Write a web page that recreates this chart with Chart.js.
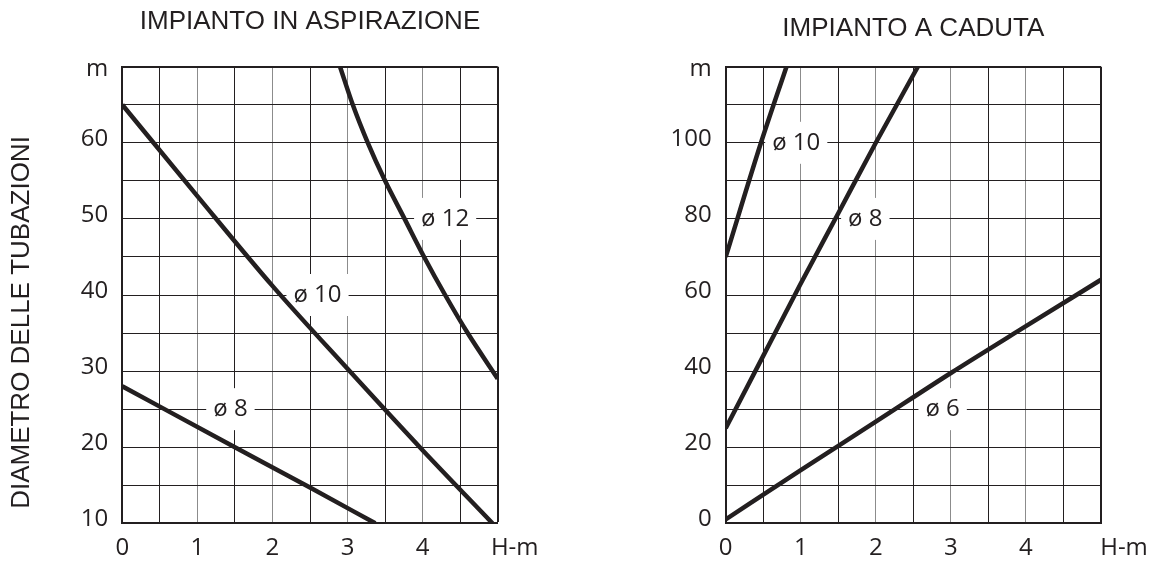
<!DOCTYPE html>
<html>
<head>
<meta charset="utf-8">
<script src="https://cdn.jsdelivr.net/npm/chart.js@4.4.1/dist/chart.umd.min.js"></script>
<style>
    html, body { margin: 0; padding: 0; background: #fff; }
    #wrap { position: relative; width: 1154px; height: 564px; }
    .box { position: absolute; top: 0; width: 577px; height: 564px; }
    #boxLeft { left: 0; }
    #boxRight { left: 577px; }
</style>
</head>
<body>
<div id="wrap">
    <div class="box" id="boxLeft"><canvas id="chartLeft"></canvas></div>
    <div class="box" id="boxRight"><canvas id="chartRight"></canvas></div>
</div>
<script>
// --- IMPIANTO IN ASPIRAZIONE ---
const aspX8 = [0, 1.5, 2.5, 3.37];
const aspY8 = [28, 20, 14.7, 10];
const aspX10 = [0, 1, 2, 3, 4, 4.93];
const aspY10 = [65, 53, 41.2, 30.3, 19.6, 10];
const aspX12 = [2.9, 3.07, 3.27, 3.5, 3.76, 4.02, 4.3, 4.6, 5];
const aspY12 = [70, 65, 60, 55, 50, 45, 40, 35, 29];
const aspXTicks = [0, 1, 2, 3, 4];
const aspYTicks = [10, 20, 30, 40, 50, 60];

// --- IMPIANTO A CADUTA ---
const cadX6 = [0, 1, 2, 3, 4, 5];
const cadY6 = [1, 14, 26.7, 39.5, 51.8, 64];
const cadX8 = [0, 0.5, 1, 1.5, 2, 2.56];
const cadY8 = [25, 44, 63, 81.5, 100, 120];
const cadX10 = [0, 0.47, 0.81];
const cadY10 = [70, 100, 120];
const cadXTicks = [0, 1, 2, 3, 4];
const cadYTicks = [0, 20, 40, 60, 80, 100];

const INK = '#231f20';
const GRID_GRAY = '#8c8c8c';
const TICK_FONT = { family: '"Open Sans", sans-serif', size: 24 };
const TITLE_FONT = { family: '"Liberation Sans", Arial, sans-serif', size: 26, weight: 'normal' };

Chart.defaults.font.family = '"Open Sans", sans-serif';
Chart.defaults.color = INK;

function toPoints(xs, ys) {
    return xs.map((x, i) => ({ x: x, y: ys[i] }));
}

function curve(xs, ys) {
    return {
        data: toPoints(xs, ys),
        borderColor: INK,
        borderWidth: 4.5,
        pointRadius: 0,
        fill: false,
        cubicInterpolationMode: 'monotone'
    };
}

// labels with white background, unit labels on the axes, rotated y title
const extrasPlugin = {
    id: 'extras',
    beforeDatasetsDraw(chart, args, opts) {
        const { ctx } = chart;
        const xs = chart.scales.x, ys = chart.scales.y;
        ctx.save();
        ctx.font = '24px "Open Sans"';
        ctx.textAlign = 'center';
        ctx.textBaseline = 'middle';
        (opts.labels || []).forEach(l => {
            const px = xs.getPixelForValue(l.x);
            const py = ys.getPixelForValue(l.y);
            const w = ctx.measureText(l.text).width + 14;
            ctx.fillStyle = '#fff';
            ctx.fillRect(px - w / 2, py - 21, w, 42);
            ctx.fillStyle = INK;
            ctx.fillText(l.text, px, py);
        });
        ctx.restore();
    },
    afterDraw(chart, args, opts) {
        const { ctx } = chart;
        const xs = chart.scales.x, ys = chart.scales.y;
        ctx.save();
        ctx.fillStyle = INK;
        ctx.textBaseline = 'middle';
        ctx.font = '24px "Open Sans"';
        ctx.textAlign = 'center';
        ctx.fillText(opts.xUnit, xs.getPixelForValue(xs.max) + opts.xUnitShift, xs.top + 24.4);
        ctx.textAlign = 'right';
        ctx.fillText(opts.yUnit, ys.right - 14, ys.getPixelForValue(ys.max) + 2);
        if (opts.yTitle) {
            ctx.font = '26px "Liberation Sans"';
            ctx.textAlign = 'center';
            ctx.translate(opts.yTitleX, opts.yTitleY);
            ctx.rotate(-Math.PI / 2);
            ctx.fillText(opts.yTitle, 0, 0);
        }
        ctx.restore();
    }
};

function makeChart(canvasId, cfg) {
    const ctx = document.getElementById(canvasId).getContext('2d');
    return new Chart(ctx, {
        type: 'line',
        data: { datasets: cfg.datasets },
        plugins: [extrasPlugin],
        options: {
            responsive: true,
            maintainAspectRatio: false,
            animation: false,
            layout: { padding: { left: 0, right: cfg.padRight, top: 0, bottom: 0 } },
            plugins: {
                legend: { display: false },
                tooltip: { enabled: false },
                title: {
                    display: true,
                    text: cfg.title,
                    font: TITLE_FONT,
                    color: INK,
                    fullSize: false,
                    padding: cfg.titlePad
                },
                extras: cfg.extras
            },
            scales: {
                x: {
                    type: 'linear',
                    min: 0,
                    max: 5,
                    afterFit: s => { s.height = 40.7; },
                    border: { display: true, color: INK, width: 2 },
                    grid: {
                        drawTicks: false,
                        color: c => (c.tick.value === 5 || !Number.isInteger(c.tick.value)) ? INK : GRID_GRAY,
                        lineWidth: c => c.tick.value === 5 ? 2 : 1
                    },
                    ticks: {
                        stepSize: 0.5,
                        autoSkip: false,
                        maxRotation: 0,
                        padding: 10,
                        font: TICK_FONT,
                        color: INK,
                        callback: v => cfg.xTicks.includes(v) ? String(v) : ''
                    }
                },
                y: {
                    min: cfg.yMin,
                    max: cfg.yMax,
                    afterFit: s => { s.width = cfg.yWidth; },
                    border: { display: true, color: INK, width: 2 },
                    grid: {
                        drawTicks: false,
                        color: INK,
                        lineWidth: c => c.tick.value === cfg.yMax ? 2 : 1
                    },
                    ticks: {
                        stepSize: cfg.yStep,
                        autoSkip: false,
                        padding: 14,
                        labelOffset: -4,
                        font: TICK_FONT,
                        color: INK,
                        callback: v => cfg.yTicks.includes(v) ? String(v) : ''
                    }
                }
            }
        }
    });
}

makeChart('chartLeft', {
    title: 'IMPIANTO IN ASPIRAZIONE',
    titlePad: { top: 6, bottom: 29.5 },
    padRight: 79.3,
    yWidth: 122.3,
    yMin: 10, yMax: 70, yStep: 5,
    xTicks: aspXTicks, yTicks: aspYTicks,
    datasets: [curve(aspX8, aspY8), curve(aspX10, aspY10), curve(aspX12, aspY12)],
    extras: {
        labels: [
            { text: 'ø 12', x: 4.3, y: 50 },
            { text: 'ø 10', x: 2.6, y: 40 },
            { text: 'ø 8', x: 1.44, y: 25 }
        ],
        xUnit: 'H-m', xUnitShift: 17,
        yUnit: 'm',
        yTitle: 'DIAMETRO DELLE TUBAZIONI', yTitleX: 21.5, yTitleY: 322.5
    }
});

makeChart('chartRight', {
    title: 'IMPIANTO A CADUTA',
    titlePad: { top: 13, bottom: 22.5 },
    padRight: 53,
    yWidth: 148.7,
    yMin: 0, yMax: 120, yStep: 10,
    xTicks: cadXTicks, yTicks: cadYTicks,
    datasets: [curve(cadX10, cadY10), curve(cadX8, cadY8), curve(cadX6, cadY6)],
    extras: {
        labels: [
            { text: 'ø 10', x: 0.94, y: 100 },
            { text: 'ø 8', x: 1.86, y: 80 },
            { text: 'ø 6', x: 2.89, y: 30 }
        ],
        xUnit: 'H-m', xUnitShift: 23,
        yUnit: 'm'
    }
});
</script>
</body>
</html>
